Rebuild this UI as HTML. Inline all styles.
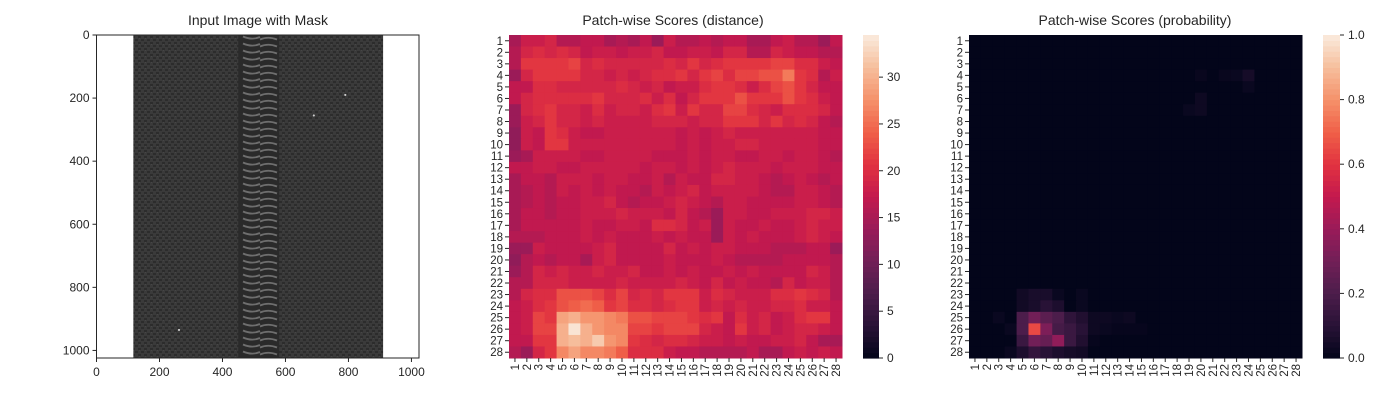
<!DOCTYPE html>
<html><head><meta charset="utf-8"><style>
body{margin:0;background:#fff;font-family:"Liberation Sans",Arial,sans-serif;}
svg text{font-family:"Liberation Sans",Arial,sans-serif;fill:#262626;}
</style></head><body>
<svg id="fig" width="1400" height="400" viewBox="0 0 1400 400" xmlns="http://www.w3.org/2000/svg">
<defs>
<pattern id="weave" width="6" height="6" patternUnits="userSpaceOnUse">
<rect width="6" height="6" fill="#3a3a3a"/>
<rect x="0" y="0" width="3" height="2" fill="#2c2c2c"/>
<rect x="3" y="3" width="3" height="2" fill="#2c2c2c"/>
<rect x="1" y="2" width="1" height="1" fill="#464646"/>
</pattern>
<pattern id="teeth" width="40" height="7" patternUnits="userSpaceOnUse">
<rect width="40" height="7" fill="#2a2a2a"/>
<path d="M3 1.5 Q12 5.5 20 2 M20 4.5 Q28 1 37 4.5" stroke="#6e6e6e" stroke-width="1.8" fill="none"/>
</pattern>
</defs>
<g id="p1"></g>
<g id="p2"></g>
<g id="p3"></g>
</svg>
<script>
const imgTicks = [0,200,400,600,800,1000];
const imgExtent = [0,1024];
const fabricRange = [117,910];
const zipperRange = [450,580];
const defectSpots = [[262,935],[790,190],[690,255]];
const distTicks = [0,5,10,15,20,25,30];
const distMax = 34.5;
const probTicks = [0,0.2,0.4,0.6,0.8,1.0];
const probMax = 1.0;
const patchLabels = Array.from({length:28},(_,i)=>String(i+1));
const distRows = [
[15,18,18,19,16,16,17,17,15,16,15,17,14,18,16,16,17,16,17,17,15,15,17,18,16,16,14,17],
[16,19,20,19,20,19,17,18,18,17,18,18,19,17,17,18,18,17,19,19,16,16,19,18,17,17,16,16],
[16,21,21,21,21,22,19,20,19,19,19,19,19,20,19,21,19,20,21,21,21,21,22,22,20,20,18,17],
[14,19,21,21,21,21,19,19,18,19,18,19,20,20,21,19,21,22,20,22,22,23,23,26,21,20,16,18],
[17,17,20,20,19,19,19,19,19,20,19,18,19,17,18,18,20,21,21,20,18,20,22,23,21,19,17,17],
[17,19,20,20,20,20,20,21,19,19,19,20,18,20,17,19,21,21,21,23,21,21,21,23,21,20,18,17],
[14,19,20,21,19,19,18,20,18,19,19,18,20,21,18,21,19,19,22,22,20,19,18,20,20,20,19,17],
[14,18,19,21,19,19,18,19,18,18,18,18,19,19,19,18,19,19,21,21,21,19,21,19,20,19,17,16],
[13,18,17,21,20,18,17,17,18,18,18,18,18,18,17,18,17,18,19,18,18,18,18,18,18,18,17,17],
[13,18,17,21,21,18,18,18,18,18,18,18,18,18,17,18,17,18,18,19,19,18,18,18,18,18,17,17],
[14,15,18,18,18,18,17,17,18,18,18,18,17,17,17,18,17,18,18,17,17,18,18,17,18,18,17,16],
[17,17,18,18,17,17,18,18,18,18,18,17,18,18,17,18,17,18,19,18,18,18,17,18,18,18,17,17],
[15,17,17,16,18,18,18,17,18,18,17,17,18,16,18,17,17,19,19,18,18,17,16,17,18,17,16,17],
[15,16,17,16,18,17,18,17,18,17,17,16,18,17,18,19,17,18,18,18,18,17,16,16,18,18,17,16],
[15,16,17,16,17,17,18,18,19,17,16,17,17,18,19,18,17,16,18,18,17,17,17,17,18,18,17,16],
[15,17,17,16,17,17,18,18,18,19,18,18,18,17,19,17,16,14,18,18,17,17,18,18,18,19,19,18],
[15,17,17,17,17,17,18,17,17,18,18,17,20,20,19,17,18,14,18,17,17,18,17,17,18,19,18,18],
[16,16,16,17,17,17,18,17,18,17,17,17,18,17,18,17,17,14,18,17,18,17,17,17,18,19,18,17],
[14,14,18,17,17,17,17,18,19,17,17,17,17,19,17,18,17,18,18,17,17,17,16,16,16,17,17,14],
[13,16,17,16,17,17,15,18,19,17,17,17,17,18,17,17,17,18,17,16,16,16,16,17,17,17,17,16],
[14,16,19,18,19,18,18,19,18,18,19,17,17,18,17,18,17,17,18,17,18,17,17,17,17,19,18,16],
[16,16,19,19,19,18,18,18,18,19,18,18,18,18,19,18,17,19,17,18,17,17,16,19,17,18,18,16],
[16,19,20,20,23,23,23,22,20,22,19,20,19,21,21,21,18,20,19,18,18,18,20,20,21,20,19,16],
[17,18,20,21,23,24,25,24,21,22,20,20,19,20,21,21,18,19,18,19,18,18,19,19,20,18,18,17],
[17,18,22,21,29,30,28,28,27,26,23,23,22,22,22,21,20,21,17,20,18,19,17,18,20,21,21,17],
[17,18,22,22,30,34,30,28,27,27,22,22,21,22,22,22,19,18,17,21,18,19,17,18,19,19,18,17],
[17,17,21,21,30,31,30,32,28,27,21,20,19,20,20,19,18,18,17,18,17,17,18,18,19,17,15,15],
[16,14,19,21,27,29,27,27,26,24,20,20,20,18,17,17,16,16,16,16,17,15,15,17,18,17,18,17]
];
const Z = [0,0,0,0,0,0,0,0,0,0,0,0,0,0,0,0,0,0,0,0,0,0,0,0,0,0,0,0];
const probRows = [
Z,Z,Z,
[0,0,0,0,0,0,0,0,0,0,0,0,0,0,0,0,0,0,0,0.015,0,0.015,0.02,0.05,0,0,0,0],
[0,0,0,0,0,0,0,0,0,0,0,0,0,0,0,0,0,0,0,0,0,0,0,0.02,0,0,0,0],
[0,0,0,0,0,0,0,0,0,0,0,0,0,0,0,0,0,0,0,0.03,0,0,0,0,0,0,0,0],
[0,0,0,0,0,0,0,0,0,0,0,0,0,0,0,0,0,0,0.02,0.03,0,0,0,0,0,0,0,0],
Z,Z,Z,Z,Z,Z,Z,Z,Z,Z,Z,Z,Z,Z,Z,
[0,0,0,0,0.04,0.06,0.06,0.02,0,0.02,0,0,0,0,0,0,0,0,0,0,0,0,0,0,0,0,0,0],
[0,0,0,0,0.04,0.06,0.1,0.07,0,0.02,0,0,0,0,0,0,0,0,0,0,0,0,0,0,0,0,0,0],
[0,0,0.02,0,0.2,0.3,0.24,0.2,0.12,0.08,0.03,0.03,0.02,0.03,0,0,0,0,0,0,0,0,0,0,0,0,0,0],
[0,0,0,0.02,0.2,0.65,0.33,0.18,0.15,0.1,0.03,0.02,0.01,0.01,0.01,0,0,0,0,0,0,0,0,0,0,0,0,0],
[0,0,0,0,0.15,0.3,0.27,0.38,0.15,0.08,0.01,0,0,0,0,0,0,0,0,0,0,0,0,0,0,0,0,0],
[0,0,0,0.02,0.07,0.13,0.1,0.07,0.05,0.04,0,0,0,0,0,0,0,0,0,0,0,0,0,0,0,0,0,0]
];
const rocket=[[3,5,26],[40,18,54],[76,29,75],[113,31,87],[153,27,89],[196,25,78],[225,50,64],[240,96,72],[245,145,106],[246,190,156],[250,235,221]];
function cmap(t){t=Math.max(0,Math.min(1,t));const f=t*10,i=Math.min(9,Math.floor(f)),u=f-i;const a=rocket[i],b=rocket[i+1];return `rgb(${a.map((v,k)=>Math.round(v+(b[k]-v)*u)).join(',')})`;}
const NS='http://www.w3.org/2000/svg';
function mk(tag,attrs,parent){const e=document.createElementNS(NS,tag);for(const k in attrs)e.setAttribute(k,attrs[k]);parent.appendChild(e);return e;}
function txt(s,attrs,parent){const e=mk('text',attrs,parent);e.textContent=s;return e;}

// ---------- Panel 1 ----------
(function(){
const g=document.getElementById('p1');
const L=96.5,T=35,W=322.5,H=323;
const sx=v=>L+v/imgExtent[1]*W, sy=v=>T+v/imgExtent[1]*H;
txt('Input Image with Mask',{x:258,y:25,'text-anchor':'middle','font-size':14},g);
const fab=mk('rect',{x:sx(fabricRange[0]),y:T,width:sx(fabricRange[1])-sx(fabricRange[0]),height:H,fill:'url(#weave)'},g);


const zip=mk('rect',{x:sx(zipperRange[0]),y:T,width:sx(zipperRange[1])-sx(zipperRange[0]),height:H,fill:'url(#teeth)'},g);


defectSpots.forEach(d=>{const c=mk('circle',{cx:sx(d[0]),cy:sy(d[1]),r:1.1,fill:'#ccc'},g);

});
mk('rect',{x:L,y:T,width:W,height:H,fill:'none',stroke:'#262626','stroke-width':1},g);
imgTicks.forEach(v=>{
mk('line',{x1:sx(v),x2:sx(v),y1:T+H,y2:T+H+4,stroke:'#262626'},g);
const a=txt(String(v),{x:sx(v),y:T+H+18,'text-anchor':'middle','font-size':12},g);

mk('line',{x1:L-4,x2:L,y1:sy(v),y2:sy(v),stroke:'#262626'},g);
const b=txt(String(v),{x:L-7,y:sy(v)+4,'text-anchor':'end','font-size':12},g);

});
})();

// ---------- Heatmaps ----------
function heatmap(g,rows,vmax,ticks,fmt,L,R,title,titleX,cbL,cbR,cbName){
const T=35,B=358,n=28,cw=(R-L)/n,ch=(B-T)/n;
const t=txt(title,{x:titleX,y:25,'text-anchor':'middle','font-size':14},g);

rows.forEach((row,r)=>row.forEach((v,c)=>{
const e=mk('rect',{x:L+c*cw,y:T+r*ch,width:cw+0.5,height:ch+0.5,fill:cmap(v/vmax)},g);


}));
patchLabels.forEach((lab,i)=>{
const y=T+(i+0.5)*ch;
mk('line',{x1:L-4,x2:L,y1:y,y2:y,stroke:'#262626'},g);
const a=txt(lab,{x:L-6,y:y+4,'text-anchor':'end','font-size':11.5},g);

const x=L+(i+0.5)*cw;
mk('line',{x1:x,x2:x,y1:B,y2:B+4,stroke:'#262626'},g);
const b=txt(lab,{x:0,y:0,'text-anchor':'end','font-size':11.5,transform:`translate(${x+4},${B+6}) rotate(-90)`},g);

});
const n2=60;
for(let i=0;i<n2;i++){
const e=mk('rect',{x:cbL,y:B-(i+1)*(B-T)/n2,width:cbR-cbL,height:(B-T)/n2+0.6,fill:cmap((i+0.5)/n2)},g);


}
ticks.forEach(v=>{
const y=B-v/vmax*(B-T);
mk('line',{x1:cbR,x2:cbR+4,y1:y,y2:y,stroke:'#262626'},g);
const a=txt(fmt(v),{x:cbR+8,y:y+4,'font-size':12},g);

});
}
heatmap(document.getElementById('p2'),distRows,distMax,distTicks,v=>String(v),509,842,'Patch-wise Scores (distance)',673,863,879,'distance-colorbar');
heatmap(document.getElementById('p3'),probRows,probMax,probTicks,v=>v.toFixed(1),969,1302,'Patch-wise Scores (probability)',1135,1323,1340,'probability-colorbar');
</script>
</body></html>
